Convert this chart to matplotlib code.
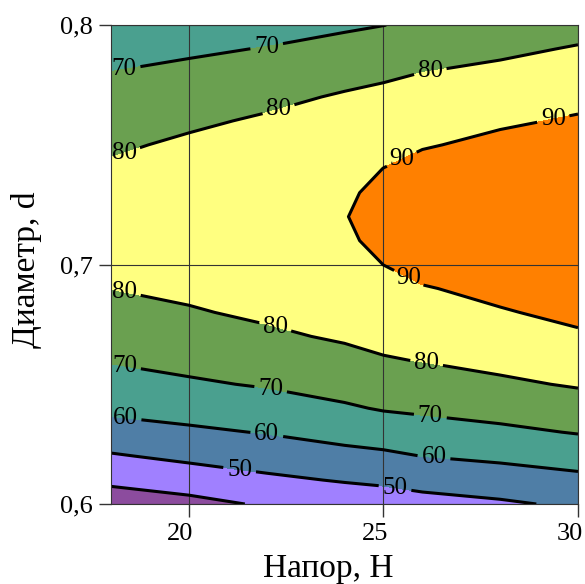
import numpy as np
import matplotlib
matplotlib.use("Agg")
import matplotlib.pyplot as plt
from matplotlib.transforms import ScaledTranslation

plt.rcParams['font.family'] = ['Liberation Serif', 'DejaVu Serif']

# Grid of the chart
head_H = [18, 20, 22, 24, 25, 26, 28, 30]
diam_d = [0.60, 0.61, 0.62, 0.63, 0.64, 0.65, 0.66, 0.67, 0.68, 0.69, 0.70,
          0.71, 0.72, 0.73, 0.74, 0.75, 0.76, 0.77, 0.78, 0.79, 0.80]

# Efficiency values along d for each H column (estimated from the contour positions)
eff_H18 = [35.0, 41.8, 49.1, 56.2, 62.0, 66.5, 70.6, 73.8, 77.0, 80.1, 81.7,
           83.4, 85.0, 83.1, 81.1, 78.8, 75.8, 72.9, 70.2, 67.0, 64.0]
eff_H20 = [37.2, 44.8, 52.1, 58.4, 63.8, 68.8, 72.6, 76.0, 79.4, 81.4, 83.2,
           84.9, 86.7, 85.4, 83.3, 81.3, 78.7, 75.4, 72.0, 68.7, 65.4]
eff_H22 = [41.1, 48.2, 54.5, 60.5, 65.8, 70.8, 74.8, 78.8, 81.2, 82.9, 84.7,
           86.6, 88.3, 87.0, 84.9, 83.0, 81.0, 78.1, 74.2, 70.4, 66.6]
eff_H24 = [43.7, 50.7, 57.3, 63.3, 68.9, 73.5, 77.8, 80.9, 82.8, 84.6, 86.5,
           88.3, 89.6, 88.3, 86.5, 84.6, 82.7, 80.8, 77.4, 73.0, 68.7]
eff_H25 = [45.0, 51.7, 58.3, 64.7, 70.7, 75.1, 79.4, 82.2, 84.8, 87.4, 90.05,
           92.7, 93.6, 92.7, 90.1, 87.4, 84.7, 81.9, 78.7, 74.4, 69.9]
eff_H26 = [46.7, 53.3, 60.1, 66.1, 71.6, 76.0, 80.3, 83.3, 86.4, 89.4, 93.3,
           96.0, 96.9, 96.0, 93.3, 89.2, 86.2, 83.1, 80.1, 75.7, 71.3]
eff_H28 = [48.7, 55.3, 61.9, 68.1, 73.5, 78.5, 82.4, 85.9, 89.3, 92.4, 95.0,
           97.0, 98.0, 97.2, 95.2, 92.3, 88.7, 85.3, 82.0, 78.3, 74.0]
eff_H30 = [51.5, 57.7, 64.1, 70.5, 75.8, 80.8, 84.8, 88.8, 92.1, 94.6, 96.8,
           98.6, 100.0, 99.2, 97.5, 95.0, 91.0, 87.5, 84.1, 80.7, 76.8]

fill_levels = [30, 40, 50, 60, 70, 80, 90, 105]
line_levels = [40, 50, 60, 70, 80, 90]
fill_colors = ['#8c4c9e', '#a080ff', '#4f7ea6', '#4aa08f', '#6aa050',
               '#ffff80', '#ff8000']

x_ticks = [20, 25, 30]
y_ticks = [0.6, 0.7, 0.8]
y_tick_labels = ['0,6', '0,7', '0,8']

label_positions = [
    (18.35, 0.780), (22.0, 0.791),
    (18.35, 0.746), (22.3, 0.765), (26.2, 0.781),
    (29.35, 0.762), (25.5, 0.743), (25.7, 0.696),
    (18.35, 0.689), (22.2, 0.673), (26.1, 0.658),
    (18.35, 0.658), (22.1, 0.648), (26.2, 0.636),
    (18.35, 0.635), (22.0, 0.629), (26.3, 0.620),
    (21.3, 0.614), (25.3, 0.607),
]

Z = np.array([eff_H18, eff_H20, eff_H22, eff_H24, eff_H25, eff_H26,
              eff_H28, eff_H30]).T
HH, DD = np.meshgrid(head_H, diam_d)

fig = plt.figure(figsize=(5.85, 5.84), dpi=100)
ax = fig.add_axes([0.190, 0.137, 0.798, 0.820])

ax.contourf(HH, DD, Z, levels=fill_levels, colors=fill_colors)
cs = ax.contour(HH, DD, Z, levels=line_levels, colors='black', linewidths=2.2)
ax.clabel(cs, fmt='%1.0f', manual=label_positions, inline=True,
          inline_spacing=4, fontsize=18, colors='black')
for t in cs.labelTexts:
    t.set_rotation(0)

ax.set_xlim(18, 30)
ax.set_ylim(0.6, 0.8)
ax.set_xticks(x_ticks)
ax.set_xticklabels([str(v) for v in x_ticks])
ax.set_yticks(y_ticks)
ax.set_yticklabels(y_tick_labels)
ax.grid(True, color='#333333', linewidth=0.8)
ax.tick_params(direction='out', length=9, width=1, color='#333333',
               labelsize=19)
ax.tick_params(axis='x', pad=5)
ax.tick_params(axis='y', pad=4)
shift = ScaledTranslation(-0.085, 0, fig.dpi_scale_trans)
for lab in ax.get_xticklabels():
    lab.set_transform(lab.get_transform() + shift)
for s in ax.spines.values():
    s.set_color('#333333')
    s.set_linewidth(0.8)

ax.set_xlabel('Напор, Н', fontsize=24)
ax.xaxis.label.set_verticalalignment('baseline')
ax.xaxis.set_label_coords(0.465, (504 - 577) / 479)
ax.set_ylabel('Диаметр, d', fontsize=24)
ax.yaxis.label.set_verticalalignment('center')
ax.yaxis.set_label_coords((26 - 111) / 467, (504 - 270) / 479)

fig.savefig('out.png', dpi=100)
